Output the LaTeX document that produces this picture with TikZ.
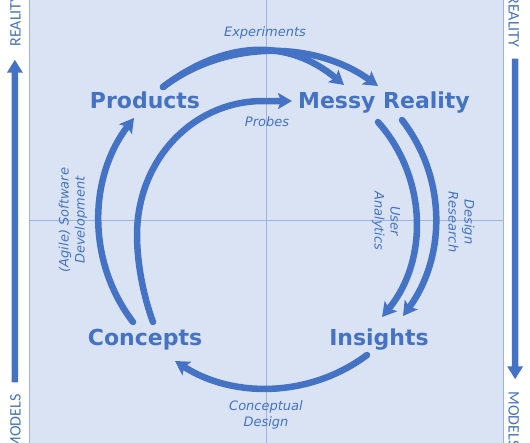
\documentclass[tikz,border=0pt]{standalone}
\usepackage{fontspec}
\setmainfont{DejaVu Sans}
\newfontfamily\sidefont{Carlito}
\usepackage{tikz}
\usetikzlibrary{arrows.meta, positioning}
\definecolor{cycleblue}{HTML}{4472C4}
\definecolor{panelblue}{HTML}{DAE3F3}
\definecolor{gridblue}{HTML}{9DB4E0}

\begin{document}
\begin{tikzpicture}[
    x=1pt, y=-1pt,
    stage/.style={text=cycleblue, font=\fontsize{22}{26}\selectfont\bfseries, inner sep=0pt, anchor=base},
    activity/.style={text=cycleblue, font=\fontsize{13}{16}\selectfont\itshape, align=center, inner sep=0pt},
    axislabel/.style={text=cycleblue, font=\sidefont\fontsize{16}{18}\selectfont, inner sep=0pt, anchor=base},
    flow/.style={draw=cycleblue, line width=6.5pt, line cap=round, -{Stealth[length=14pt, width=16pt, inset=3pt]}},
    sidearrow/.style={draw=cycleblue, line width=6.5pt, -{Triangle[length=13pt, width=15pt]}}
]
    \useasboundingbox (0,0) rectangle (530,442);
    \fill[white] (0,0) rectangle (530,442);

    % 背景面板与十字线
    \filldraw[fill=panelblue, draw=gridblue, line width=0.8pt] (29,-2) rectangle (503,444);
    \draw[gridblue, line width=0.8pt] (266,-2) -- (266,444);
    \draw[gridblue, line width=0.8pt] (29,220) -- (503,220);

    % 两侧坐标轴
    \node[axislabel, rotate=90] (realL) at (20.5,20.5) {REALITY};
    \node[axislabel, rotate=90] (modelsL) at (20.5,422.5) {MODELS};
    \node[axislabel, rotate=-90] (realR) at (508.5,21.5) {REALITY};
    \node[axislabel, rotate=-90] (modelsR) at (508.5,419.5) {MODELS};
    \draw[sidearrow] ([shift={(-0.5,-12)}]modelsL.east) -- ([shift={(-0.5,13)}]realL.west);
    \draw[sidearrow] ([shift={(1.5,11)}]realR.east) -- ([shift={(1.5,-12)}]modelsR.west);

    % 四个阶段
    \node[stage] (prod) at (145,108) {Products};
    \node[stage] (messy) at (384,108) {Messy Reality};
    \node[stage] (conc) at (145,345.5) {Concepts};
    \node[stage] (ins) at (379,345.5) {Insights};

    % 活动标签
    \node[activity, anchor=base] (exp) at (265,36.5) {Experiments};
    \node[activity, anchor=base] (probe) at (267,126.5) {Probes};
    \node[activity, rotate=90] (agile) at (73,220) {(Agile) Software\\Development};
    \node[activity, rotate=-90] (analytics) at (386,221) {User\\Analytics};
    \node[activity, rotate=-90] (research) at (461.5,222) {Design\\Research};
    \node[activity] (cdesign) at (266,414.5) {Conceptual\\Design};

    % 连接
    \draw[flow] ([shift={(18,-21)}]prod.base) .. controls +(62,-47) and +(-64,-46) .. ([shift={(-6,-22)}]messy.base);
    \draw[flow] ([shift={(18,-21)}]prod.base) .. controls +(62,-47) and +(-56,-47) .. ([shift={(-40,-23)}]messy.base);
    \draw[flow] ([shift={(8,-23.5)}]conc.base) .. controls +(-10,-27) and +(0,27) .. (137,235)
        .. controls +(0,-75) and +(-70,0) .. (263,101) -- ([shift={(-92,-7)}]messy.base);
    \draw[flow] ([shift={(-12,-23.5)}]conc.base) .. controls +(-46,-60) and +(-46,60) .. ([shift={(-11,10)}]prod.base);
    \draw[flow] ([shift={(-6,14)}]messy.base) .. controls +(49,55) and +(47,-57) .. ([shift={(3,-28.5)}]ins.base);
    \draw[flow] ([shift={(18,12)}]messy.base) .. controls +(45,58) and +(43,-59) .. ([shift={(24,-29.5)}]ins.base);
    \draw[flow] ([shift={(-12,9.5)}]ins.base) .. controls +(-56,42) and +(59,38) .. ([shift={(30,15.5)}]conc.base);
\end{tikzpicture}
\end{document}
